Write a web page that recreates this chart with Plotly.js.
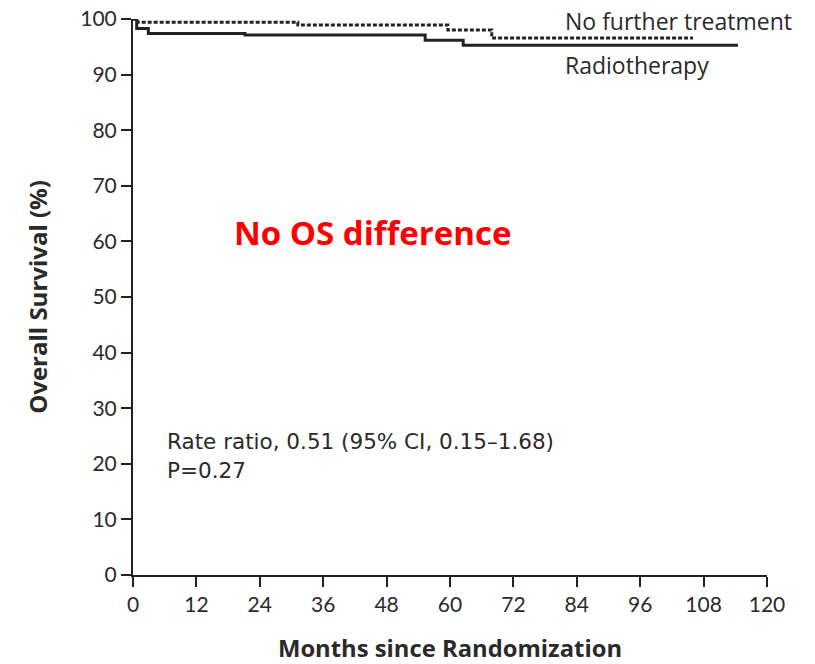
<!DOCTYPE html>
<html>
<head>
<meta charset="utf-8">
<script src="https://cdn.plot.ly/plotly-3.0.1.min.js"></script>
<style>
html,body{margin:0;padding:0;background:#fff;}
#chart{width:815px;height:664px;}
</style>
</head>
<body>
<div id="chart"></div>
<script>
// Data (Kaplan–Meier step curves)
const months_radiotherapy = [0, 0.7, 2.9, 21.2, 55.3, 62.5, 114.5];
const os_radiotherapy     = [100, 98.3, 97.4, 97.1, 96.2, 95.3, 95.3];
const months_nofurther    = [0, 0.9, 31.2, 59.6, 67.9, 106];
const os_nofurther        = [100, 99.4, 98.9, 98.0, 96.6, 96.6];
const xTicks = [0, 12, 24, 36, 48, 60, 72, 84, 96, 108, 120];
const yTicks = [0, 10, 20, 30, 40, 50, 60, 70, 80, 90, 100];

const textColor = '#2a2a2a';
const traces = [
  {x: months_nofurther, y: os_nofurther, type: 'scatter', mode: 'lines',
   line: {shape: 'hv', color: '#222', width: 3, dash: '4px,2px'}, name: 'No further treatment', hoverinfo: 'skip'},
  {x: months_radiotherapy, y: os_radiotherapy, type: 'scatter', mode: 'lines',
   line: {shape: 'hv', color: '#222', width: 3}, name: 'Radiotherapy', hoverinfo: 'skip'}
];

const layout = {
  width: 815, height: 664,
  margin: {l: 133, r: 48, t: 19, b: 89},
  paper_bgcolor: '#fff', plot_bgcolor: '#fff',
  showlegend: false,
  font: {family: 'Lato, "Open Sans", sans-serif', color: textColor, size: 21},
  xaxis: {
    range: [0, 120], tickvals: xTicks, ticktext: xTicks.map(String),
    showgrid: false, zeroline: false, showline: true, linecolor: '#222', linewidth: 2,
    ticks: 'outside', ticklen: 10, tickwidth: 2, tickcolor: '#222',
    tickfont: {size: 21, color: textColor},
    title: {text: 'Months since Randomization', font: {size: 23.8, color: textColor, family: '"Open Sans", sans-serif', weight: 'bold'}, standoff: 25},
    fixedrange: true
  },
  yaxis: {
    range: [0, 100], tickvals: yTicks, ticktext: yTicks.map(String),
    showgrid: false, zeroline: false, showline: true, linecolor: '#222', linewidth: 2,
    ticks: 'outside', ticklen: 10, tickwidth: 2, tickcolor: '#222',
    tickfont: {size: 21, color: textColor},
    title: {text: 'Overall Survival (%)', font: {size: 24, color: textColor, family: '"Open Sans", sans-serif', weight: 'bold'}, standoff: 26},
    fixedrange: true
  },
  annotations: [
    {x: 81.4, y: 99.6, xref: 'x', yref: 'y', xanchor: 'left', yanchor: 'middle', showarrow: false,
     text: 'No further treatment', font: {size: 23, color: textColor, family: '"Open Sans", sans-serif'}},
    {x: 81.4, y: 91.8, xref: 'x', yref: 'y', xanchor: 'left', yanchor: 'middle', showarrow: false,
     text: 'Radiotherapy', font: {size: 23, color: textColor, family: '"Open Sans", sans-serif'}},
    {x: 18.8, y: 61.6, xref: 'x', yref: 'y', xanchor: 'left', yanchor: 'middle', showarrow: false,
     text: '<b>No OS difference</b>', font: {size: 33, color: '#ff0000', family: '"Open Sans", sans-serif'}},
    {x: 6.0, y: 24.0, xref: 'x', yref: 'y', xanchor: 'left', yanchor: 'middle', showarrow: false,
     text: 'Rate ratio, 0.51 (95% CI, 0.15–1.68)', font: {size: 21.5, color: textColor, family: '"DejaVu Sans", sans-serif'}},
    {x: 6.0, y: 18.8, xref: 'x', yref: 'y', xanchor: 'left', yanchor: 'middle', showarrow: false,
     text: 'P=0.27', font: {size: 21.5, color: textColor, family: '"DejaVu Sans", sans-serif'}}
  ]
};

Plotly.newPlot('chart', traces, layout, {staticPlot: true, displayModeBar: false});
</script>
</body>
</html>
